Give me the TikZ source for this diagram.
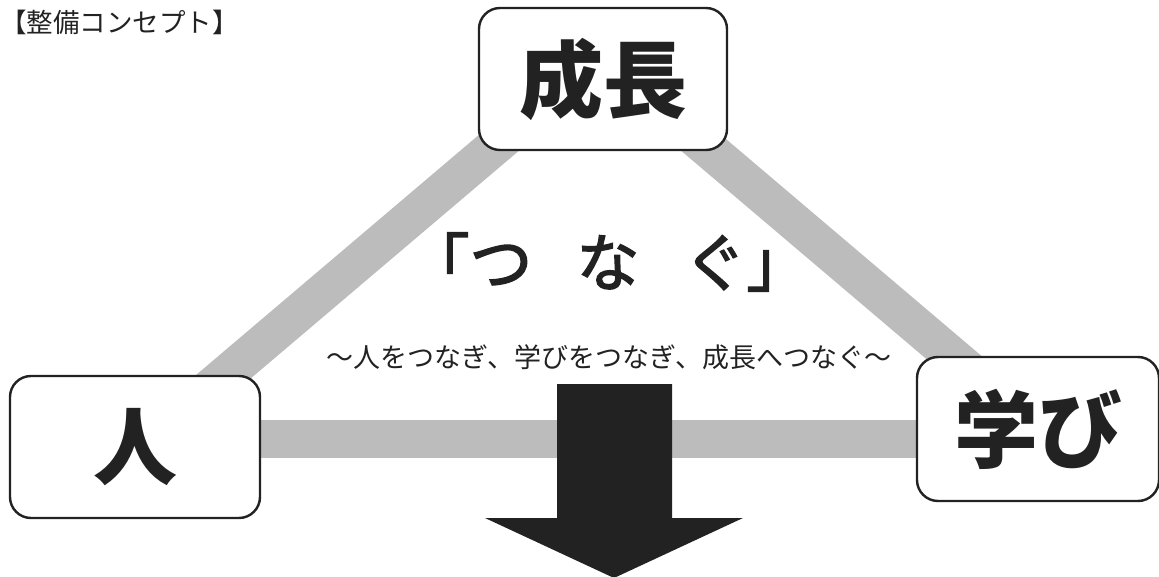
\documentclass[tikz,border=0pt]{standalone}
\usepackage{fontspec}
\newfontfamily\jp{Noto Sans CJK JP}
\newfontfamily\jpheavy[FakeBold=2.2]{Noto Sans CJK JP}
\definecolor{bandgray}{RGB}{188,188,188}
\definecolor{ink}{RGB}{34,34,34}
\tikzset{
  band/.style={line width=38pt, bandgray, line cap=butt},
  bigbox/.style={draw=ink, line width=2.4pt, fill=white, rounded corners=21pt, inner sep=0pt, text=ink,
    font=\jp\bfseries\fontsize{84}{84}\selectfont},
  txt/.style={inner sep=0pt, text=ink}
}
\begin{document}
\begin{tikzpicture}[x=1pt,y=-1pt]
\useasboundingbox (0,0) rectangle (1159,577);
% band triangle corners (hidden under boxes)
\coordinate (tA) at (600,57);
\coordinate (tL) at (150,439);
\coordinate (tR) at (1050,439);
\draw[band] (tL) -- (tA);
\draw[band] (tA) -- (tR);
\draw[band] (tL) -- (tR);
% boxes
\node[bigbox, minimum width=248pt, minimum height=142pt] (seicho) at (603,79) {成長};
\node[bigbox, minimum width=250pt, minimum height=142pt] (hito) at (135,447) {人};
\node[bigbox, minimum width=242pt, minimum height=144pt] (manabi) at (1038,429) {学び};
% title
\node[txt, anchor=west, font=\jp\fontsize{26.5}{26.5}\selectfont] (title) at (0,22) {【整備コンセプト】};
% main phrase
\node[txt, font=\jpheavy\fontsize{63}{63}\selectfont] (tsunagu) at (608,262) {「つ\hspace{44pt}な\hspace{44pt}ぐ」};
\node[txt, font=\jp\fontsize{27}{27}\selectfont] (sub) at (609,357) {〜人をつなぎ、学びをつなぎ、成長へつなぐ〜};
% big down arrow
\fill[ink] (557,384) -- (672,384) -- (672,518) -- (743,518) -- (614,578) -- (485,518) -- (557,518) -- cycle;
\end{tikzpicture}
\end{document}
